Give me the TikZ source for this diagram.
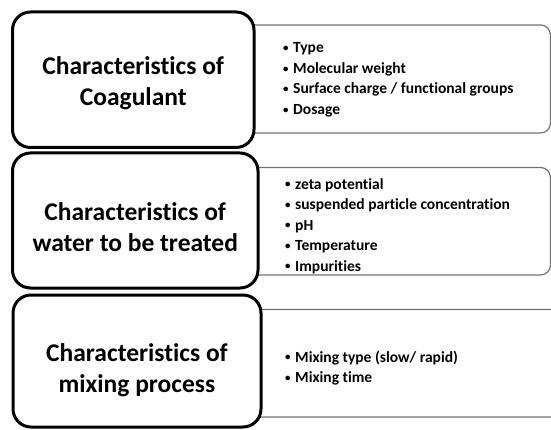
\documentclass[tikz,border=0pt]{standalone}
\usepackage{fontspec}
\setmainfont{Carlito}[Ligatures=NoCommon]
\tikzset{
  titlebox/.style={draw,line width=3pt,rounded corners=18pt,fill=white,align=center,
    font=\fontsize{25.5}{31}\selectfont\bfseries,inner sep=0pt},
  listbox/.style={draw=black!55,line width=1.2pt,rounded corners=10pt,inner sep=0pt},
  listtext/.style={anchor=west,align=left,font=\fontsize{15.5}{20.5}\selectfont\bfseries,inner sep=0pt},
}
\newcommand{\itm}{\makebox[10pt][l]{\raisebox{0.18ex}{\scalebox{0.7}{\textbullet}}}}
\newcommand{\lift}[1]{\rule{0pt}{#1}}
\begin{document}
\begin{tikzpicture}[x=1pt,y=1pt]
                \clip (0,0) rectangle (551,429);
                %% side boxes
                \node[listbox,minimum width=320pt,minimum height=108pt] (coagR) at (390.5,350) {};
                \node[listbox,minimum width=320pt,minimum height=107.5pt] (waterR) at (390.5,207.75) {};
                \node[listbox,minimum width=340pt,minimum height=107.5pt] (mixR) at (400.5,65.75) {};
                %% title boxes
                \node[titlebox,minimum width=241.5pt,minimum height=135.5pt] (coag) at (133.25,349.25) {\lift{25pt}Characteristics of\\Coagulant};
                \node[titlebox,minimum width=245.5pt,minimum height=135pt] (water) at (135.25,208.5) {\lift{31pt}Characteristics of\\water to be treated};
                \node[titlebox,minimum width=248pt,minimum height=132pt] (mix) at (137,68) {\lift{37pt}Characteristics of\\mixing process};
                %% lists
                \node[listtext] (coagL) at (283,349) {\itm Type\\\itm Molecular weight\\\itm Surface charge / functional groups\\\itm Dosage};
                \node[listtext] (waterL) at (285,203) {\itm zeta potential\\\itm suspended particle concentration\\\itm pH\\\itm Temperature\\\itm Impurities};
                \node[listtext] (mixL) at (285,61) {\itm Mixing type (slow/ rapid)\\\itm Mixing time};
\end{tikzpicture}
\end{document}
